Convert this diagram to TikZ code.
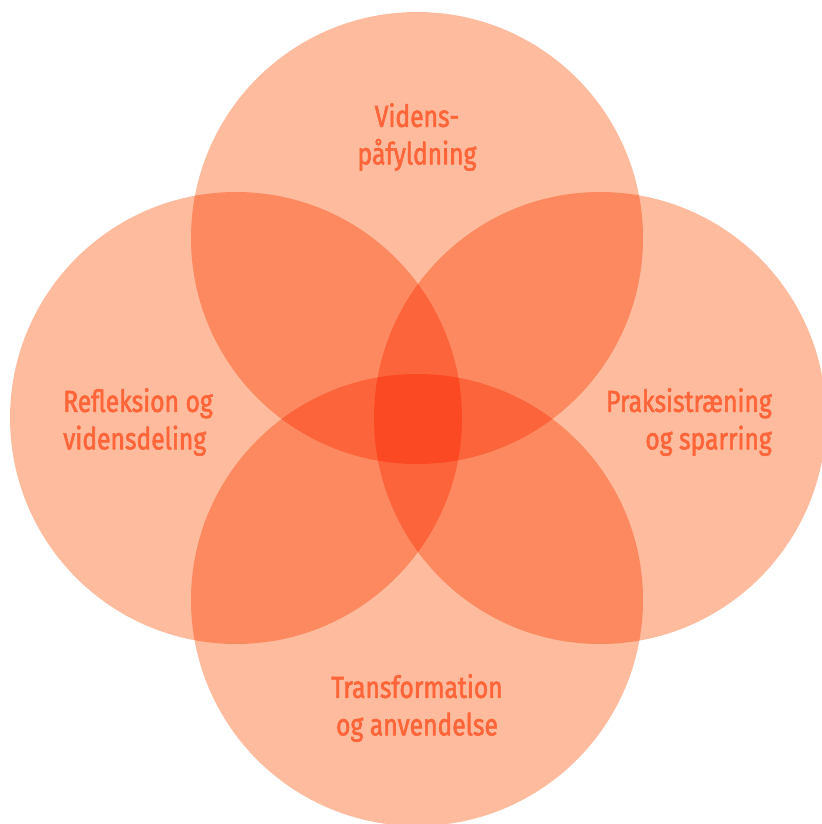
\documentclass[tikz,border=0pt]{standalone}
\usepackage{fontspec}
\setmainfont{Fira Sans}[FakeStretch=0.81,FakeBold=1.8]
\definecolor{petal}{RGB}{254,187,157}
\definecolor{labelred}{RGB}{255,101,56}
\begin{document}
\begin{tikzpicture}[x=0.03cm,y=-0.03cm,
  petalcircle/.style={fill=petal,draw=none},
  lbl/.style={text=labelred,inner sep=0pt,font=\fontsize{26}{32}\selectfont}]
\useasboundingbox (0,0) rectangle (821,824);
% four overlapping circles, multiplied where they overlap
\begin{scope}[blend group=multiply]
\fill[petalcircle] (417,238) circle[radius=226];
\fill[petalcircle] (236,418) circle[radius=226];
\fill[petalcircle] (600,418) circle[radius=226];
\fill[petalcircle] (417,600) circle[radius=226];
\end{scope}
% labels
\node[lbl,align=center] (top) at (417,137) {Videns-\\påfyldning};
\node[lbl,align=left,anchor=west] (left) at (63,422) {Refleksion og\\vidensdeling};
\node[lbl,align=right,anchor=east] (right) at (772,422) {Praksistræning\\og sparring};
\node[lbl,align=center] (bottom) at (417,708) {Transformation\\og anvendelse};
\end{tikzpicture}
\end{document}
